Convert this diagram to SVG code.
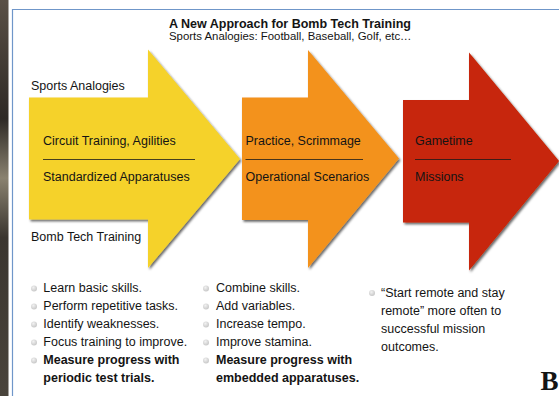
<svg xmlns="http://www.w3.org/2000/svg" width="559" height="396" viewBox="0 0 559 396">
<defs>
<filter id="sh" x="-10%" y="-10%" width="130%" height="130%">
<feDropShadow dx="1.5" dy="1.8" stdDeviation="0.9" flood-color="#000" flood-opacity="0.6"/>
</filter>
<linearGradient id="strip" x1="0" y1="0" x2="0" y2="1">
<stop offset="0" stop-color="#5a5046"/>
<stop offset="0.3" stop-color="#2e2a26"/>
<stop offset="0.45" stop-color="#8a8270"/>
<stop offset="0.6" stop-color="#3a352f"/>
<stop offset="1" stop-color="#4a443c"/>
</linearGradient>
<radialGradient id="dot" cx="0.4" cy="0.35" r="0.7">
<stop offset="0" stop-color="#f2f2f2"/>
<stop offset="1" stop-color="#c4c4c4"/>
</radialGradient>
</defs>
<style>
text{font-family:"Liberation Sans",Arial,sans-serif;fill:#141414;font-size:12.5px}
.b{font-weight:bold}
.sub{font-size:11.4px}
.sep{stroke:#1a1a1a;stroke-width:0.8}
.dot{fill:url(#dot)}
</style>
<rect x="0" y="0" width="559" height="396" fill="#ffffff"/>
<rect x="0" y="0" width="8.5" height="396" fill="url(#strip)"/>
<g id="frame">
<line x1="12.5" y1="9.5" x2="559" y2="9.5" stroke="#6f96c9" stroke-width="1.2"/>
<line x1="12.5" y1="9" x2="12.5" y2="396" stroke="#6f96c9" stroke-width="1.2"/>
</g>
<g id="title">
<text x="169" y="28" class="b">A New Approach for Bomb Tech Training</text>
<text x="169" y="40" class="sub">Sports Analogies: Football, Baseball, Golf, etc…</text>
</g>
<g id="node-yellow">
<polygon points="29,97.5 148,97.5 148,49.5 240,159 148,268 148,219.5 29,219.5" fill="#f5d22b" filter="url(#sh)"/>
<text x="31" y="90">Sports Analogies</text>
<text x="43" y="145">Circuit Training, Agilities</text>
<line class="sep" x1="43" y1="159.5" x2="195" y2="159.5"/>
<text x="43" y="181">Standardized Apparatuses</text>
<text x="31" y="241">Bomb Tech Training</text>
</g>
<g id="node-orange">
<polygon points="242,97.5 308,97.5 308,50 399,158.5 308,268 308,220 242,220" fill="#f3921e" filter="url(#sh)"/>
<text x="245.5" y="145">Practice, Scrimmage</text>
<line class="sep" x1="245.5" y1="159.5" x2="363" y2="159.5"/>
<text x="245.5" y="181">Operational Scenarios</text>
</g>
<g id="node-red">
<polygon points="403,100 469,100 469,52.5 559,161 469,270.5 469,222.5 403,222.5" fill="#c72507" filter="url(#sh)"/>
<text x="415" y="145">Gametime</text>
<line class="sep" x1="415" y1="159.5" x2="511" y2="159.5"/>
<text x="415" y="181">Missions</text>
</g>
<g id="connectors"></g>
<g id="list-1">
<circle class="dot" cx="34" cy="288.5" r="3"/>
<text x="43.3" y="292">Learn basic skills.</text>
<circle class="dot" cx="34" cy="306.5" r="3"/>
<text x="43.3" y="310">Perform repetitive tasks.</text>
<circle class="dot" cx="34" cy="324.5" r="3"/>
<text x="43.3" y="328">Identify weaknesses.</text>
<circle class="dot" cx="34" cy="342.5" r="3"/>
<text x="43.3" y="346">Focus training to improve.</text>
<circle class="dot" cx="34" cy="360.5" r="3"/>
<text x="43.3" y="364" class="b">Measure progress with</text>
<text x="43.3" y="382" class="b">periodic test trials.</text>
</g>
<g id="list-2">
<circle class="dot" cx="206" cy="288.5" r="3"/>
<text x="216" y="292">Combine skills.</text>
<circle class="dot" cx="206" cy="306.5" r="3"/>
<text x="216" y="310">Add variables.</text>
<circle class="dot" cx="206" cy="324.5" r="3"/>
<text x="216" y="328">Increase tempo.</text>
<circle class="dot" cx="206" cy="342.5" r="3"/>
<text x="216" y="346">Improve stamina.</text>
<circle class="dot" cx="206" cy="360.5" r="3"/>
<text x="216" y="364" class="b">Measure progress with</text>
<text x="216" y="382" class="b">embedded apparatuses.</text>
</g>
<g id="list-3">
<circle class="dot" cx="372" cy="293" r="3"/>
<text x="381" y="297">“Start remote and stay</text>
<text x="381" y="315">remote” more often to</text>
<text x="381" y="333">successful mission</text>
<text x="381" y="350.5">outcomes.</text>
</g>
<text x="540.5" y="390" style="font-family:'Liberation Serif','Times New Roman',serif;font-size:27px;font-weight:bold">B</text>
</svg>
